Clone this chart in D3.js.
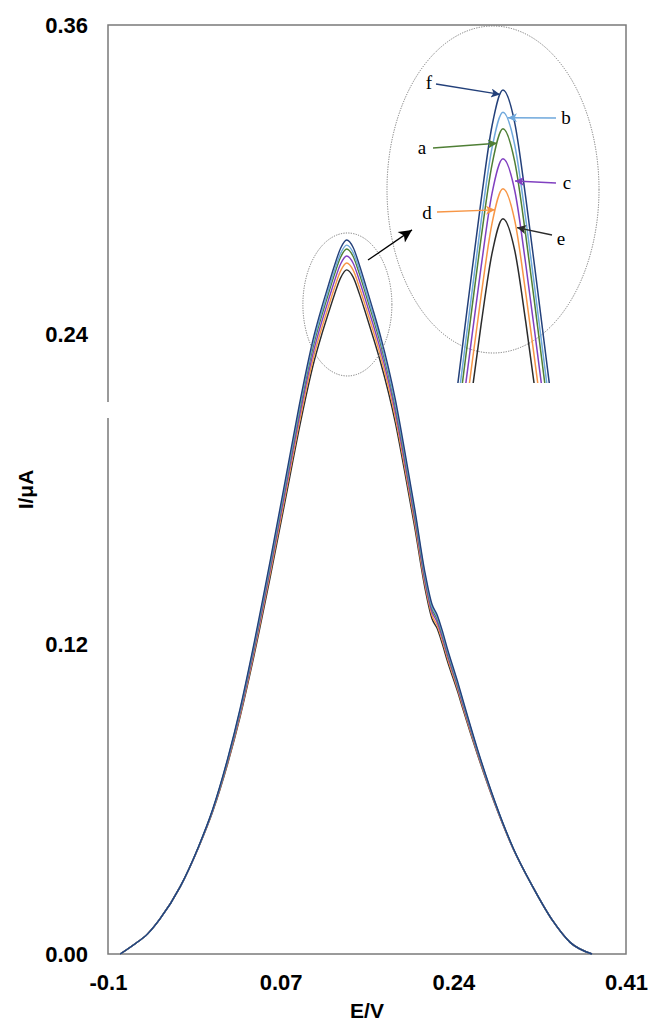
<!DOCTYPE html>
<html lang="en">
<head>
<meta charset="UTF-8">
<title>Voltammogram</title>
<script src="https://d3js.org/d3.v7.min.js"></script>
<style>
  body { margin: 0; background: #fff; }
  svg text { font-family: "Liberation Sans", Arial, sans-serif; }
  .tick text { font-size: 22px; font-weight: bold; fill: #000; }
  .axis-title { font-size: 21px; font-weight: bold; fill: #000; }
  .inset-label { font-family: "Liberation Serif", "Times New Roman", serif; font-size: 19px; fill: #000; }
</style>
</head>
<body>
<div id="chart"></div>
<script>
// potential E/V (shared by all curves)
const potential = [-0.088, -0.075, -0.061, -0.049, -0.029, -0.011, 0.003, 0.018, 0.030, 0.042,
  0.060, 0.079, 0.088, 0.103, 0.110, 0.1165, 0.123, 0.129, 0.135, 0.1415,
  0.1475, 0.154, 0.1605, 0.168, 0.183, 0.192, 0.202, 0.212, 0.219, 0.224,
  0.229, 0.234, 0.245, 0.249, 0.264, 0.281, 0.299, 0.318, 0.338, 0.355, 0.3765];

// current I/uA for each curve
const currentA = [0.0000, 0.0035, 0.0078, 0.0135, 0.0260, 0.0414, 0.0557, 0.0754, 0.0940, 0.1156,
  0.1511, 0.1906, 0.2093, 0.2369, 0.2468, 0.2552, 0.2634, 0.2700, 0.2732, 0.2702,
  0.2636, 0.2554, 0.2470, 0.2369, 0.2120, 0.1928, 0.1703, 0.1461, 0.1338, 0.1299,
  0.1240, 0.1171, 0.1033, 0.0980, 0.0785, 0.0587, 0.0409, 0.0262, 0.0128, 0.0045, 0.0000];
const currentB = [0.0000, 0.0035, 0.0078, 0.0135, 0.0260, 0.0414, 0.0558, 0.0757, 0.0944, 0.1162,
  0.1519, 0.1916, 0.2105, 0.2382, 0.2482, 0.2566, 0.2649, 0.2715, 0.2747, 0.2717,
  0.2651, 0.2568, 0.2484, 0.2382, 0.2131, 0.1939, 0.1713, 0.1469, 0.1345, 0.1306,
  0.1246, 0.1177, 0.1038, 0.0984, 0.0787, 0.0588, 0.0409, 0.0262, 0.0128, 0.0045, 0.0000];
const currentC = [0.0000, 0.0035, 0.0078, 0.0135, 0.0260, 0.0413, 0.0555, 0.0750, 0.0933, 0.1145,
  0.1496, 0.1887, 0.2073, 0.2345, 0.2444, 0.2527, 0.2608, 0.2674, 0.2705, 0.2676,
  0.2610, 0.2529, 0.2446, 0.2345, 0.2099, 0.1909, 0.1687, 0.1447, 0.1325, 0.1287,
  0.1228, 0.1160, 0.1025, 0.0971, 0.0780, 0.0584, 0.0408, 0.0262, 0.0128, 0.0045, 0.0000];
const currentD = [0.0000, 0.0035, 0.0078, 0.0135, 0.0260, 0.0412, 0.0553, 0.0745, 0.0925, 0.1134,
  0.1481, 0.1868, 0.2052, 0.2322, 0.2420, 0.2502, 0.2582, 0.2647, 0.2678, 0.2649,
  0.2584, 0.2504, 0.2422, 0.2322, 0.2078, 0.1890, 0.1670, 0.1433, 0.1312, 0.1274,
  0.1216, 0.1149, 0.1016, 0.0963, 0.0775, 0.0582, 0.0407, 0.0262, 0.0128, 0.0045, 0.0000];
const currentE = [0.0000, 0.0035, 0.0078, 0.0135, 0.0260, 0.0412, 0.0551, 0.0740, 0.0918, 0.1124,
  0.1466, 0.1849, 0.2031, 0.2298, 0.2395, 0.2477, 0.2556, 0.2620, 0.2651, 0.2622,
  0.2558, 0.2479, 0.2397, 0.2298, 0.2057, 0.1871, 0.1653, 0.1419, 0.1299, 0.1262,
  0.1204, 0.1137, 0.1007, 0.0955, 0.0770, 0.0580, 0.0407, 0.0262, 0.0128, 0.0045, 0.0000];
const currentF = [0.0000, 0.0035, 0.0078, 0.0135, 0.0260, 0.0415, 0.0560, 0.0760, 0.0950, 0.1170,
  0.1530, 0.1930, 0.2120, 0.2399, 0.2500, 0.2585, 0.2668, 0.2735, 0.2767, 0.2737,
  0.2670, 0.2587, 0.2502, 0.2399, 0.2147, 0.1953, 0.1725, 0.1480, 0.1355, 0.1315,
  0.1255, 0.1185, 0.1045, 0.0990, 0.0791, 0.0590, 0.0410, 0.0262, 0.0128, 0.0045, 0.0000];

const xTicks = [-0.1, 0.07, 0.24, 0.41];
const xTickLabels = ["-0.1", "0.07", "0.24", "0.41"];
const yTicks = [0, 0.12, 0.24, 0.36];
const yTickLabels = ["0.00", "0.12", "0.24", "0.36"];

// drawing order: f last so it sits on top
const series = [
  { name: "e", values: currentE, color: "#2b2b2b" },
  { name: "d", values: currentD, color: "#f79646" },
  { name: "c", values: currentC, color: "#8040c0" },
  { name: "a", values: currentA, color: "#4f7f35" },
  { name: "b", values: currentB, color: "#6fa8dc" },
  { name: "f", values: currentF, color: "#23407a" }
];

// inset arrows: label position (px) and tip on the curve (E, I)
const insetLabels = [
  { name: "f", tx: 429, ty: 82, sx: 436, sy: 84, tipE: 0.1334, tipI: 0.2763, color: "#23407a" },
  { name: "b", tx: 566, ty: 117, sx: 556, sy: 118, tipE: 0.1377, tipI: 0.2742, color: "#6fa8dc" },
  { name: "a", tx: 422, ty: 147, sx: 433, sy: 148, tipE: 0.1317, tipI: 0.2719, color: "#4f7f35" },
  { name: "c", tx: 567, ty: 182, sx: 556, sy: 183, tipE: 0.1416, tipI: 0.2685, color: "#8040c0" },
  { name: "d", tx: 427, ty: 212, sx: 437, sy: 212, tipE: 0.1306, tipI: 0.2659, color: "#f79646" },
  { name: "e", tx: 561, ty: 238, sx: 552, sy: 235, tipE: 0.1427, tipI: 0.2643, color: "#2b2b2b" }
];

const W = 648, H = 1022;
const plotLeft = 108, plotRight = 626, plotTop = 25, plotBottom = 954;

const svg = d3.select("#chart").append("svg")
  .attr("width", W).attr("height", H);

const x = d3.scaleLinear().domain([-0.1, 0.41]).range([plotLeft, plotRight]);
const y = d3.scaleLinear().domain([0, 0.36]).range([plotBottom, plotTop]);

// inset (magnified peak)
const ix = d3.scaleLinear().domain([0.105, 0.165]).range([448.4, 557.6]);
const iy = d3.scaleLinear().domain([0.2503, 0.2767]).range([383, 90]);

const defs = svg.append("defs");
defs.append("clipPath").attr("id", "insetClip")
  .append("rect").attr("x", 430).attr("y", 40).attr("width", 140).attr("height", 343);

function marker(id, color, w, h) {
  defs.append("marker")
    .attr("id", id)
    .attr("viewBox", "0 0 10 10")
    .attr("refX", 10).attr("refY", 5)
    .attr("markerWidth", w).attr("markerHeight", h)
    .attr("markerUnits", "userSpaceOnUse")
    .attr("orient", "auto")
    .append("path").attr("d", "M0,0 L10,5 L0,10 L2.5,5 z").attr("fill", color);
}
insetLabels.forEach(d => marker("arrow-" + d.name, d.color, 12, 9));
marker("arrow-big", "#000", 15, 13);

// frame
svg.append("rect")
  .attr("x", plotLeft).attr("y", plotTop)
  .attr("width", plotRight - plotLeft).attr("height", plotBottom - plotTop)
  .attr("fill", "none").attr("stroke", "#7a7a7a").attr("stroke-width", 1.5);

// axis break on the left side
svg.append("rect")
  .attr("x", plotLeft - 4).attr("y", y(0.2139))
  .attr("width", 8).attr("height", y(0.2077) - y(0.2139))
  .attr("fill", "#fff");

// axes (labels only)
svg.append("g")
  .attr("transform", `translate(0,${plotBottom})`)
  .call(d3.axisBottom(x).tickValues(xTicks).tickSize(0).tickPadding(20)
    .tickFormat((d, i) => xTickLabels[i]))
  .call(g => g.select(".domain").remove());

svg.append("g")
  .attr("transform", `translate(${plotLeft},0)`)
  .call(d3.axisLeft(y).tickValues(yTicks).tickSize(0).tickPadding(20)
    .tickFormat((d, i) => yTickLabels[i]))
  .call(g => g.select(".domain").remove());

svg.append("text").attr("class", "axis-title")
  .attr("x", (plotLeft + plotRight) / 2).attr("y", 1018)
  .attr("text-anchor", "middle").text("E/V");

svg.append("text").attr("class", "axis-title")
  .attr("transform", `translate(33,${(plotTop + plotBottom) / 2}) rotate(-90)`)
  .attr("text-anchor", "middle").text("I/μA");

// main curves
const line = d3.line()
  .x((d, i) => x(potential[i]))
  .y(d => y(d))
  .curve(d3.curveMonotoneX);

svg.append("g").selectAll("path")
  .data(series).enter().append("path")
  .attr("d", d => line(d.values))
  .attr("fill", "none")
  .attr("stroke", d => d.color)
  .attr("stroke-width", 1.4);

// small ellipse around the peak
svg.append("ellipse")
  .attr("cx", x(0.1357)).attr("cy", y(0.2517))
  .attr("rx", 44.5).attr("ry", 71.5)
  .attr("fill", "none").attr("stroke", "#777")
  .attr("stroke-width", 1).attr("stroke-dasharray", "1.2,1.3");

// big ellipse of the inset
svg.append("ellipse")
  .attr("cx", 493).attr("cy", 189.5)
  .attr("rx", 106).attr("ry", 163.5)
  .attr("fill", "none").attr("stroke", "#777")
  .attr("stroke-width", 1).attr("stroke-dasharray", "1.2,1.3");

// arrow from peak to inset
svg.append("line")
  .attr("x1", x(0.156)).attr("y1", y(0.2689))
  .attr("x2", x(0.1993)).attr("y2", y(0.2806))
  .attr("stroke", "#000").attr("stroke-width", 1.3)
  .attr("marker-end", "url(#arrow-big)");

// inset curves
const insetLine = d3.line()
  .x((d, i) => ix(potential[i]))
  .y(d => iy(d))
  .curve(d3.curveMonotoneX);

svg.append("g").attr("clip-path", "url(#insetClip)")
  .selectAll("path")
  .data(series).enter().append("path")
  .attr("d", d => insetLine(d.values))
  .attr("fill", "none")
  .attr("stroke", d => d.color)
  .attr("stroke-width", 1.5);

// inset labels and arrows
const lab = svg.append("g").selectAll("g")
  .data(insetLabels).enter().append("g");

lab.append("line")
  .attr("x1", d => d.sx).attr("y1", d => d.sy)
  .attr("x2", d => ix(d.tipE)).attr("y2", d => iy(d.tipI))
  .attr("stroke", d => d.color).attr("stroke-width", 1.3)
  .attr("marker-end", d => `url(#arrow-${d.name})`);

lab.append("text").attr("class", "inset-label")
  .attr("x", d => d.tx).attr("y", d => d.ty)
  .attr("dy", "0.35em")
  .attr("text-anchor", "middle")
  .text(d => d.name);
</script>
</body>
</html>
